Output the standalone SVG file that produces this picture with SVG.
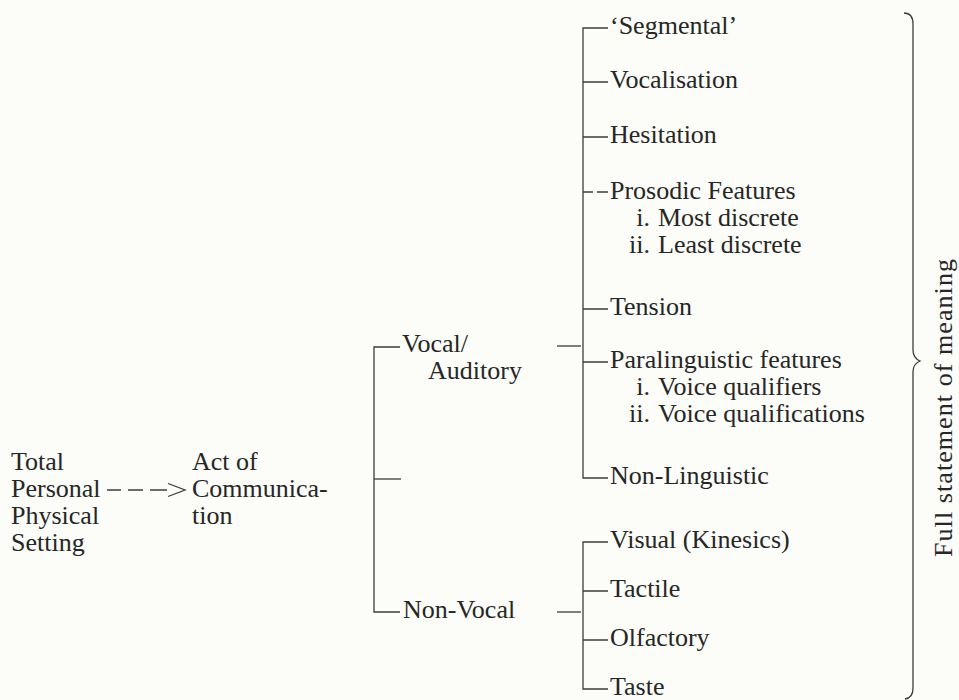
<svg xmlns="http://www.w3.org/2000/svg" width="959" height="700" viewBox="0 0 959 700">
<style>
text { font-family: "Liberation Serif", "Times New Roman", serif; font-size: 26px; fill: #262626; }
.ln { stroke: #3c3c3c; stroke-width: 1.3; fill: none; stroke-linecap: butt; }
</style>
<rect width="959" height="700" fill="#fcfcf8"/>

<g id="connectors" class="ln">
  <!-- dashed arrow -->
  <path d="M107 490 H121 M128 490 H143 M150 490 H167"/>
  <path d="M168 483.5 L185 490 L168 496.5"/>
  <!-- first-level bracket -->
  <path d="M400 347 H374 V612 H400"/>
  <path d="M374 479 H401"/>
  <!-- side ticks -->
  <path d="M557 346 H581"/>
  <path d="M557 612 H581"/>
  <!-- vocal group bracket -->
  <path d="M608 28 H583 V478 H608"/>
  <path d="M583 82 H608 M583 137 H608 M583 192 H593 M597 192 H608 M583 309 H608 M583 362 H608"/>
  <!-- non-vocal group bracket -->
  <path d="M608 542 H583 V689 H608"/>
  <path d="M583 591 H608 M583 640 H608"/>
  <!-- brace -->
  <path d="M904 13 Q913 13 913 24 V350 Q913 358 920 361 Q913 364 913 372 V688 Q913 698 905 699"/>
</g>

<g id="setting">
  <text><tspan x="11" y="470">Total</tspan><tspan x="11" y="497">Personal</tspan><tspan x="11" y="524">Physical</tspan><tspan x="11" y="551">Setting</tspan></text>
</g>
<g id="act">
  <text><tspan x="192" y="470">Act of</tspan><tspan x="192" y="497">Communica-</tspan><tspan x="192" y="524">tion</tspan></text>
</g>
<g id="vocal">
  <text><tspan x="402" y="352">Vocal/</tspan><tspan x="428" y="379">Auditory</tspan></text>
</g>
<g id="nonvocal">
  <text x="403" y="618">Non-Vocal</text>
</g>

<g id="segmental"><text x="610" y="34">‘Segmental’</text></g>
<g id="vocalisation"><text x="610" y="88">Vocalisation</text></g>
<g id="hesitation"><text x="610" y="143">Hesitation</text></g>
<g id="prosodic">
  <text><tspan x="610" y="199">Prosodic Features</tspan><tspan x="650" y="226" text-anchor="end">i.</tspan><tspan x="658" y="226">Most discrete</tspan><tspan x="650" y="253" text-anchor="end">ii.</tspan><tspan x="658" y="253">Least discrete</tspan></text>
</g>
<g id="tension"><text x="610" y="315">Tension</text></g>
<g id="paralinguistic">
  <text><tspan x="610" y="368">Paralinguistic features</tspan><tspan x="650" y="395" text-anchor="end">i.</tspan><tspan x="658" y="395">Voice qualifiers</tspan><tspan x="650" y="422" text-anchor="end">ii.</tspan><tspan x="658" y="422">Voice qualifications</tspan></text>
</g>
<g id="nonlinguistic"><text x="610" y="484">Non-Linguistic</text></g>
<g id="visual"><text x="610" y="548">Visual (Kinesics)</text></g>
<g id="tactile"><text x="610" y="597">Tactile</text></g>
<g id="olfactory"><text x="610" y="646">Olfactory</text></g>
<g id="taste"><text x="610" y="695">Taste</text></g>

<g id="meaning">
  <text transform="translate(952 408) rotate(-90)" text-anchor="middle" textLength="298" lengthAdjust="spacing">Full statement of meaning</text>
</g>
</svg>
